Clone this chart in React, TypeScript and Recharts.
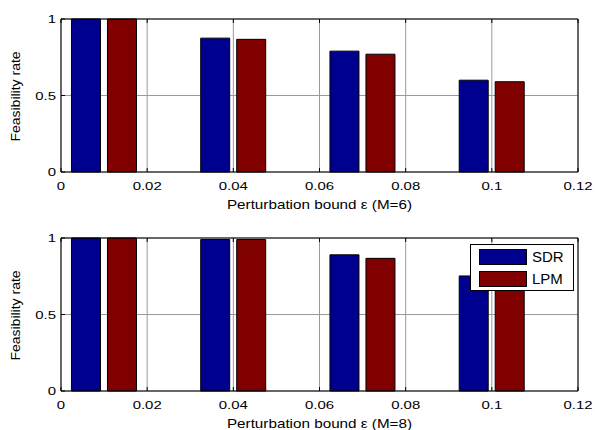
import { BarChart, Bar, XAxis, YAxis, CartesianGrid, Legend, Label } from "recharts";

// perturbation bounds (x positions of the bar groups)
const epsilons = [0.01, 0.04, 0.07, 0.1];

// feasibility rates, M = 6
const sdrM6 = [1, 0.875, 0.79, 0.6];
const lpmM6 = [1, 0.867, 0.77, 0.59];

// feasibility rates, M = 8
const sdrM8 = [1, 0.99, 0.89, 0.752];
const lpmM8 = [1, 0.99, 0.867, 0.73];

const xTicks = [0, 0.02, 0.04, 0.06, 0.08, 0.1, 0.12];
const yTicks = [0, 0.5, 1];

const seriesNames = ["SDR", "LPM"];
const SDR_COLOR = "#00008f";
const LPM_COLOR = "#800000";
const FONT = "'Liberation Sans', Arial, Helvetica, sans-serif";

const XTick = (props: any) => {
  const { x, y, payload } = props;
  return (
    <g transform={`translate(${x},${y})`}>
      <text transform="scale(1.3,1)" textAnchor="middle" dy="0.71em" fontSize={11.5} fontFamily={FONT} fill="#000">
        {payload.value}
      </text>
    </g>
  );
};

const YTick = (props: any) => {
  const { x, y, payload } = props;
  return (
    <g transform={`translate(${x},${y})`}>
      <text transform="scale(1.3,1)" textAnchor="end" dy="0.355em" fontSize={11.5} fontFamily={FONT} fill="#000">
        {payload.value}
      </text>
    </g>
  );
};

const NoTick = () => <g />;

const makeXLabel = (text: string) => (props: any) => {
  const vb = props.viewBox || { x: 61, y: 172, width: 517, height: 43 };
  const cx = vb.x + vb.width / 2;
  const cy = vb.y + 27.7;
  return (
    <g transform={`translate(${cx},${cy})`}>
      <text transform="scale(1.22,1)" textAnchor="middle" dy="0.71em" fontSize={12.5} fontFamily={FONT} fill="#000">
        {text}
      </text>
    </g>
  );
};

const YLabel = (props: any) => {
  const vb = props.viewBox || { x: 0, y: 19, width: 61, height: 153 };
  const cx = vb.x + 16;
  const cy = vb.y + vb.height / 2 + 1;
  return (
    <g transform={`translate(${cx},${cy}) rotate(-90)`}>
      <text transform="scale(1.12,1)" textAnchor="middle" dy="0.355em" fontSize={12.5} fontFamily={FONT} fill="#000">
        Feasibility rate
      </text>
    </g>
  );
};

const LegendBox = (props: any) => {
  const fallback = seriesNames.map((n, i) => ({ value: n, color: i === 0 ? SDR_COLOR : LPM_COLOR }));
  const payload = (props.payload && props.payload.length ? [...props.payload] : fallback).sort(
    (a: any, b: any) => seriesNames.indexOf(a.value) - seriesNames.indexOf(b.value)
  );
  return (
    <div
      style={{
        position: "relative",
        width: 104,
        height: 47,
        boxSizing: "border-box",
        border: "1px solid #000",
        background: "#fff",
        fontFamily: FONT,
        fontSize: 15,
        color: "#000",
      }}
    >
      {payload.map((entry: any, i: number) => (
        <div key={entry.value} style={{ position: "absolute", left: 8, top: 3.7 + i * 21.7, height: 16, display: "flex", alignItems: "center" }}>
          <span
            style={{
              display: "inline-block",
              width: 48,
              height: 16,
              boxSizing: "border-box",
              border: "1px solid #000",
              background: entry.color,
            }}
          />
          <span style={{ marginLeft: 5, lineHeight: "16px" }}>{entry.value}</span>
        </div>
      ))}
    </div>
  );
};

type PanelProps = {
  sdr: number[];
  lpm: number[];
  m: number;
  top: number;
  marginTop: number;
  axisHeight: number;
  showLegend?: boolean;
};

const Panel = ({ sdr, lpm, m, top, marginTop, axisHeight, showLegend }: PanelProps) => {
  const data = epsilons.map((eps, i) => ({ eps, sdr: sdr[i], lpm: lpm[i] }));
  return (
    <div style={{ position: "absolute", left: 0, top }}>
      <BarChart
        width={595}
        height={215}
        data={data}
        margin={{ top: marginTop, right: 16, bottom: 0, left: 0 }}
        barSize={29}
        barGap={7}
      >
        <CartesianGrid stroke="#9a9a9a" strokeWidth={1} />
        <XAxis
          dataKey="eps"
          type="number"
          domain={[0, 0.12]}
          ticks={xTicks}
          interval={0}
          height={axisHeight}
          tickSize={-4}
          tickMargin={14}
          tick={<XTick />}
          axisLine={{ stroke: "#000" }}
          tickLine={{ stroke: "#000" }}
        >
          <Label content={makeXLabel(`Perturbation bound \u03b5 (M=${m})`)} />
        </XAxis>
        <XAxis
          xAxisId="top"
          orientation="top"
          dataKey="eps"
          type="number"
          domain={[0, 0.12]}
          ticks={xTicks}
          interval={0}
          height={1}
          tickSize={-4}
          tick={<NoTick />}
          axisLine={{ stroke: "#000" }}
          tickLine={{ stroke: "#000" }}
        />
        <YAxis
          type="number"
          domain={[0, 1]}
          ticks={yTicks}
          interval={0}
          width={61}
          tickSize={-4}
          tickMargin={9}
          tick={<YTick />}
          axisLine={{ stroke: "#000" }}
          tickLine={{ stroke: "#000" }}
        >
          <Label content={YLabel} />
        </YAxis>
        <YAxis
          yAxisId="right"
          orientation="right"
          type="number"
          domain={[0, 1]}
          ticks={yTicks}
          interval={0}
          width={1}
          tickSize={-4}
          tick={<NoTick />}
          axisLine={{ stroke: "#000" }}
          tickLine={{ stroke: "#000" }}
        />
        <Bar dataKey="sdr" name="SDR" fill={SDR_COLOR} stroke="#000" strokeWidth={1} isAnimationActive={false} />
        <Bar dataKey="lpm" name="LPM" fill={LPM_COLOR} stroke="#000" strokeWidth={1} isAnimationActive={false} />
        {showLegend && (
          <Legend
            layout="vertical"
            align="center"
            verticalAlign="middle"
            content={LegendBox}
            wrapperStyle={{ left: 470, top: 29.3, width: 104, height: 47 }}
          />
        )}
      </BarChart>
    </div>
  );
}

export default function App() {
  return (
    <div style={{ position: "absolute", left: 0, top: 0, width: 595, height: 430, background: "#fff" }}>
      <Panel sdr={sdrM6} lpm={lpmM6} m={6} top={0} marginTop={18} axisHeight={43} />
      <Panel sdr={sdrM8} lpm={lpmM8} m={8} top={215} marginTop={22} axisHeight={39} showLegend />
    </div>
  );
}
